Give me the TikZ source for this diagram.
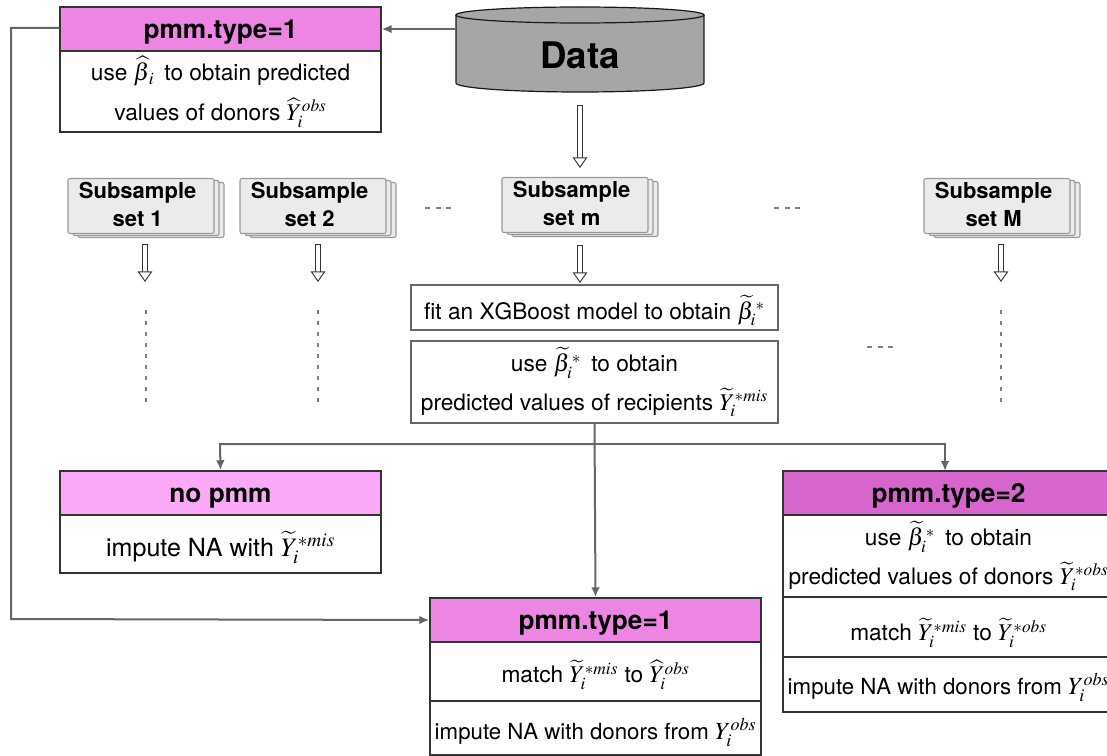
\documentclass[tikz,border=0pt]{standalone}
\usepackage{mathptmx}
\usepackage[no-math]{fontspec}
\setmainfont{TeX Gyre Heros}
\usepackage{amsmath}
\usetikzlibrary{ arrows.meta,      % For the arrow tips
                 shadows,          % For the stacked subsample sheets
               }
\DeclareMathSizes{17}{18}{13}{10}
\DeclareMathSizes{16.7}{18.5}{13.5}{10}
\DeclareMathSizes{18.8}{20}{14.5}{11}
\definecolor{pmmone}{HTML}{EC86E2}
\definecolor{pmmtwo}{HTML}{D666CC}
\definecolor{pmmno}{HTML}{FBA8F7}
\definecolor{linegray}{HTML}{666666}
\def\px{0.75pt}
\newcommand{\setlabel}[1]{Subsample\hspace*{5pt}\\set #1\hspace*{5pt}\rule[-3pt]{0pt}{1pt}}
\tikzset{
  every node/.style={font=\fontsize{17}{29}\selectfont, inner sep=0pt, align=center},
  lower/.style={execute at begin node={\rule{0pt}{#1}}},
  box/.style={draw=black!80, line width=1.1pt, minimum width=#1*\px},
  head/.style={font=\fontsize{19.7}{22}\selectfont\bfseries, minimum height=44*\px, lower=19pt},
  greybox/.style={draw=linegray, line width=1.5pt, minimum width=367*\px},
  subset/.style={draw=black!40, line width=0.8pt, rounded corners=1.5pt, fill=black!8,
    minimum width=146*\px, minimum height=55*\px,
    font=\fontsize{16.5}{21}\selectfont\bfseries,
    double copy shadow={shadow xshift=3.75pt, shadow yshift=-1.5pt}},
  link/.style={draw=linegray, line width=1.5pt},
  tip/.style={-{Latex[length=7.5pt,width=6.5pt]}},
  hollow/.style={draw=black!80, double=white, double distance=3pt, line width=0.7pt,
    {Bar[width=4.4pt,line width=0.7pt]}-{Triangle[open,fill=white,length=8pt,width=11pt,line width=0.7pt]}},
  dashes/.style={draw=black!50, line width=1.1pt, dash pattern=on 3.75pt off 4.2pt},
  dots/.style={draw=black!50, line width=1.1pt, dash pattern=on 3pt off 5.25pt},
  can/.style={draw=black!90, line width=0.9pt, fill=black!35},
}
\begin{document}
\begin{tikzpicture}[x=0.75pt,y=-0.75pt]
  \useasboundingbox (0,0) rectangle (1107,756);

  % the data cylinder
  \draw[can] (456,15) -- (456,83) arc[start angle=180, end angle=360, x radius=93pt, y radius=6.75pt] -- (704,15);
  \draw[can] (580,15) ellipse [x radius=93pt, y radius=6pt];
  \node[font=\fontsize{27.5}{30}\selectfont\bfseries, minimum width=248*\px, minimum height=86*\px] (data) at (580,55) {Data};

  % top left box
  \node[box=321, head, fill=pmmone] (pmm_one_head) at (220.5,29) {pmm.type=1};
  \node[box=321, minimum height=81*\px, font=\fontsize{17}{30}\selectfont, lower=25.5pt] (pmm_one_body) at (220.5,91.5)
    {use $\widehat{\beta}_{\,i}$\, to obtain predicted\\values of donors $\widehat{Y}_i^{obs}$};

  % subsample sets
  \node[subset] (set_one) at (141,206) {\setlabel{1}};
  \node[subset] (set_two) at (313,206) {\setlabel{2}};
  \node[subset] (set_m) at (575,205) {\setlabel{m}};
  \node[subset] (set_big_m) at (997,206) {\setlabel{M}};

  \node[greybox, minimum height=45*\px, lower=23pt] (fit) at (594.5,307.5)
    {fit an XGBoost model to obtain $\widetilde{\beta}_i^{\,*}$};
  \node[greybox, minimum height=82*\px, lower=26pt] (use) at (594.5,382)
    {use $\widetilde{\beta}_i^{\,*}$\, to obtain\\predicted values of recipients $\widetilde{Y}_i^{*mis}$};

  % no pmm
  \node[box=321, head, fill=pmmno] (no_pmm_head) at (220.5,493) {no pmm};
  \node[box=321, minimum height=58*\px, lower=24pt] (no_pmm_body) at (220.5,544)
    {\fontsize{18.8}{29}\selectfont impute NA with $\widetilde{Y}_i^{*mis}$};

  % bottom box
  \node[box=331, head, fill=pmmone] (pmm_low_head) at (595.5,620) {pmm.type=1};
  \node[box=331, minimum height=59*\px, lower=22pt] (pmm_low_match) at (595.5,671.5)
    {match $\widetilde{Y}_i^{*mis}$ to $\widehat{Y}_i^{obs}$};
  \node[box=331, minimum height=54*\px, lower=23pt] (pmm_low_impute) at (595.5,728)
    {\fontsize{16.7}{29}\selectfont impute NA with donors from $Y_i^{obs}$};

  % right box, runs off the page
  \node[box=331, head, fill=pmmtwo] (pmm_two_head) at (948.5,493) {pmm.type=2};
  \node[box=331, minimum height=82*\px, lower=26pt] (pmm_two_body) at (948.5,556)
    {use $\widetilde{\beta}_i^{\,*}$\, to obtain\\predicted values of donors $\widetilde{Y}_i^{*obs}$};
  \node[box=331, minimum height=60*\px, lower=26pt] (pmm_two_match) at (948.5,627)
    {match $\widetilde{Y}_i^{*mis}$ to $\widetilde{Y}_i^{*obs}$};
  \node[box=331, minimum height=55*\px, lower=20pt] (pmm_two_impute) at (948.5,684.5)
    {\fontsize{16.7}{29}\selectfont impute NA with donors from $Y_i^{obs}$};

  \coordinate (left_top) at (11,28);
  \coordinate (left_low) at (11,619);
  \coordinate (branch) at (595,444);
  \coordinate (branch_left) at (220,444);
  \coordinate (branch_right) at (945,444);
  \coordinate (two_in) at (945,471);

  \draw[link, tip] (data.west |- pmm_one_head.east) -- (pmm_one_head.east);
  \draw[link, tip] (pmm_one_head.west |- left_top) -- (left_top) -- (left_low) -- (pmm_low_head.west);
  \draw[link, tip] (use.south) -- (pmm_low_head.north);
  \draw[link, tip] (branch) -- (branch_left) -- (no_pmm_head.north);
  \draw[link, tip] (branch) -- (branch_right) -- (two_in);

  % hollow arrows
  \coordinate (data_out) at (580,105);
  \coordinate (m_in) at (580,168);
  \draw[hollow] (data_out) -- (m_in);
  \coordinate (m_out) at (580,245);
  \coordinate (m_low) at (580,283);
  \draw[hollow] (m_out) -- (m_low);
  \coordinate (one_out) at (145,244);
  \coordinate (one_low) at (145,282);
  \draw[hollow] (one_out) -- (one_low);
  \coordinate (two_out) at (318,244);
  \coordinate (two_low) at (318,282);
  \draw[hollow] (two_out) -- (two_low);
  \coordinate (big_m_out) at (1001,244);
  \coordinate (big_m_low) at (1001,282);
  \draw[hollow] (big_m_out) -- (big_m_low);

  % dashes
  \coordinate (dash_a) at (425,208);
  \coordinate (dash_b) at (454,208);
  \draw[dashes] (dash_a) -- (dash_b);
  \coordinate (dash_c) at (774,208);
  \coordinate (dash_d) at (803,208);
  \draw[dashes] (dash_c) -- (dash_d);
  \coordinate (dash_e) at (867,347);
  \coordinate (dash_f) at (896,347);
  \draw[dashes] (dash_e) -- (dash_f);
  \coordinate (col_one_a) at (146,310);
  \coordinate (col_one_b) at (146,404);
  \draw[dots] (col_one_a) -- (col_one_b);
  \coordinate (col_two_a) at (318,310);
  \coordinate (col_two_b) at (318,404);
  \draw[dots] (col_two_a) -- (col_two_b);
  \coordinate (col_m_a) at (1001,310);
  \coordinate (col_m_b) at (1001,404);
  \draw[dots] (col_m_a) -- (col_m_b);
\end{tikzpicture}
\end{document}
